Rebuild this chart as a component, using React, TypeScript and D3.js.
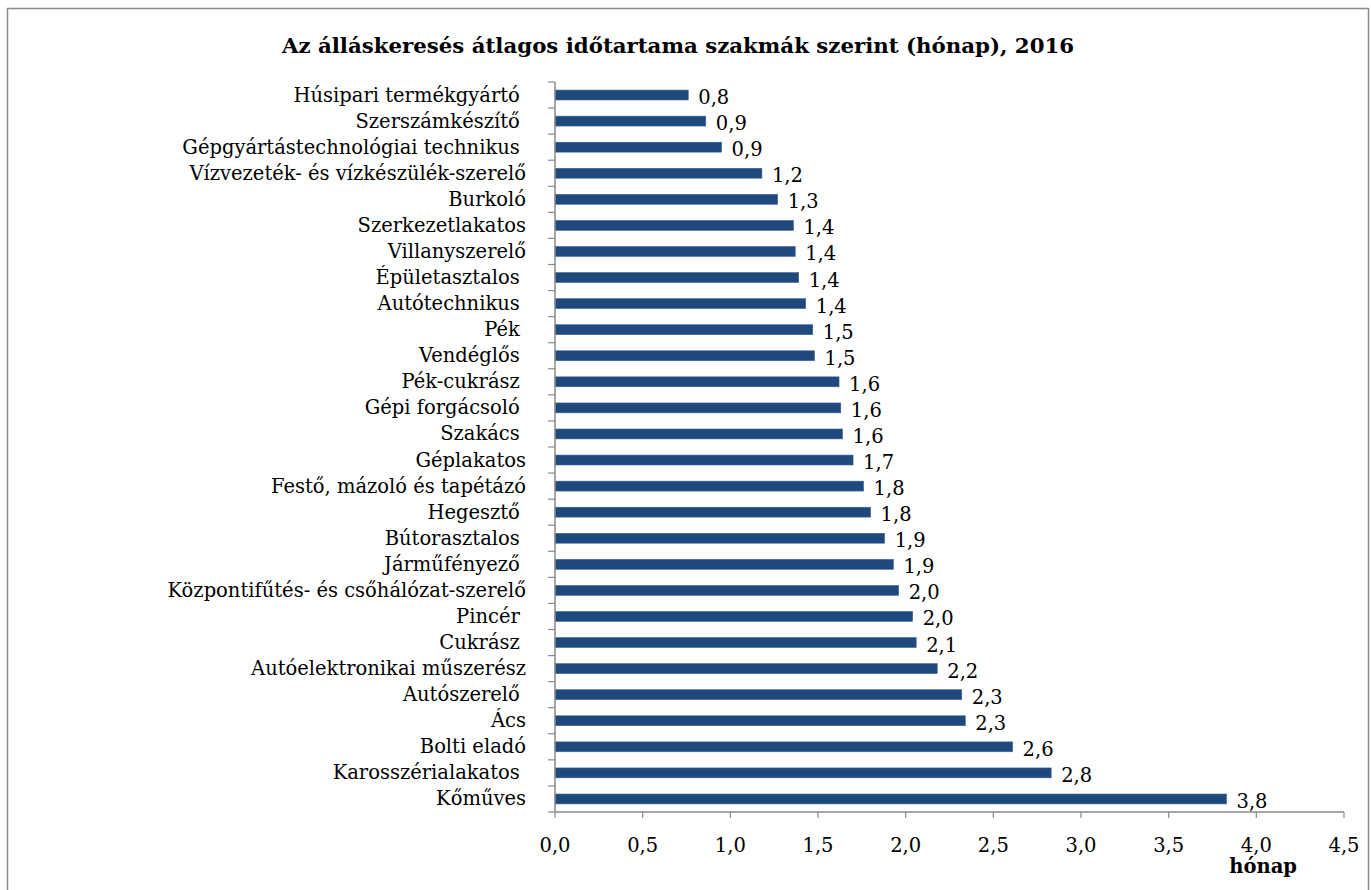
import React from "react";
import * as d3 from "d3";

const categories = [
  "Húsipari termékgyártó ",
  "Szerszámkészítő ",
  "Gépgyártástechnológiai technikus ",
  "Vízvezeték- és vízkészülék-szerelő",
  "Burkoló",
  "Szerkezetlakatos",
  "Villanyszerelő",
  "Épületasztalos ",
  "Autótechnikus ",
  "Pék ",
  "Vendéglős ",
  "Pék-cukrász ",
  "Gépi forgácsoló ",
  "Szakács ",
  "Géplakatos",
  "Festő, mázoló és tapétázó",
  "Hegesztő ",
  "Bútorasztalos ",
  "Járműfényező ",
  "Központifűtés- és csőhálózat-szerelő",
  "Pincér ",
  "Cukrász ",
  "Autóelektronikai műszerész",
  "Autószerelő ",
  "Ács",
  "Bolti eladó",
  "Karosszérialakatos ",
  "Kőműves",
];

const values = [
  0.76, 0.86, 0.95, 1.18, 1.27, 1.36, 1.37, 1.39, 1.43, 1.47, 1.48, 1.62, 1.63, 1.64,
  1.7, 1.76, 1.8, 1.88, 1.93, 1.96, 2.04, 2.06, 2.18, 2.32, 2.34, 2.61, 2.83, 3.83,
];

const xTicks = [0, 0.5, 1, 1.5, 2, 2.5, 3, 3.5, 4, 4.5];

const title = "Az álláskeresés átlagos időtartama szakmák szerint (hónap), 2016";
const axisTitle = "hónap";

const W = 1371;
const H = 890;
const FONT = "'DejaVu Serif', serif";

export default function App() {
  const left = 555;
  const right = 1344;
  const top = 82;
  const bottom = 812;

  const x = d3.scaleLinear().domain([0, 4.5]).range([left, right]);
  const y = d3
    .scaleBand<string>()
    .domain(categories)
    .range([top, bottom])
    .paddingInner(0.62)
    .paddingOuter(0.31);

  const band = (bottom - top) / categories.length;
  const fmt = (v: number) => d3.format(".1f")(v).replace(".", ",");
  const axisColor = "#8a8a8a";
  const fs = 19.5;

  return (
    <svg
      width={W}
      height={H}
      style={{ position: "fixed", left: 0, top: 0, background: "#fff" }}
      fontFamily={FONT}
    >
      <rect x={0} y={0} width={W} height={H} fill="#fff" />
      <rect x={7.5} y={8.5} width={1361} height={900} fill="none" stroke={axisColor} strokeWidth={1.5} />

      <text x={678} y={53} textAnchor="middle" fontWeight="bold" fontSize={21.3} fill="#000">
        {title}
      </text>

      {/* bars */}
      {categories.map((c, i) => (
        <rect
          key={c}
          x={x(0)}
          y={y(c)!}
          width={x(values[i]) - x(0)}
          height={y.bandwidth()}
          fill="#1F497D"
          stroke="#3d6494"
          strokeWidth={0.6}
        />
      ))}

      {/* value labels */}
      {categories.map((c, i) => (
        <text
          key={"v" + c}
          x={x(values[i]) + 10}
          y={y(c)! + y.bandwidth() / 2 + 9}
          fontSize={fs}
          fill="#000"
        >
          {fmt(values[i])}
        </text>
      ))}

      {/* category labels */}
      {categories.map((c) => (
        <text
          key={"c" + c}
          x={526}
          y={y(c)! + y.bandwidth() / 2 + 6.5}
          textAnchor="end"
          fontSize={fs}
          fill="#000"
          style={{ whiteSpace: "pre" }}
        >
          {c}
        </text>
      ))}

      {/* y axis */}
      <line x1={left} x2={left} y1={top} y2={bottom} stroke={axisColor} strokeWidth={1.5} />
      {d3.range(categories.length + 1).map((k) => (
        <line
          key={"yt" + k}
          x1={left - 7}
          x2={left}
          y1={top + k * band}
          y2={top + k * band}
          stroke={axisColor}
          strokeWidth={1.2}
        />
      ))}

      {/* x axis */}
      <line x1={left} x2={right} y1={bottom} y2={bottom} stroke={axisColor} strokeWidth={1.5} />
      {xTicks.map((t) => (
        <g key={"xt" + t}>
          <line x1={x(t)} x2={x(t)} y1={bottom} y2={bottom + 6} stroke={axisColor} strokeWidth={1.2} />
          <text x={x(t)} y={852} textAnchor="middle" fontSize={fs} fill="#000">
            {fmt(t)}
          </text>
        </g>
      ))}

      <text x={1297} y={873} textAnchor="end" fontWeight="bold" fontSize={fs} fill="#000">
        {axisTitle}
      </text>
    </svg>
  );
}
